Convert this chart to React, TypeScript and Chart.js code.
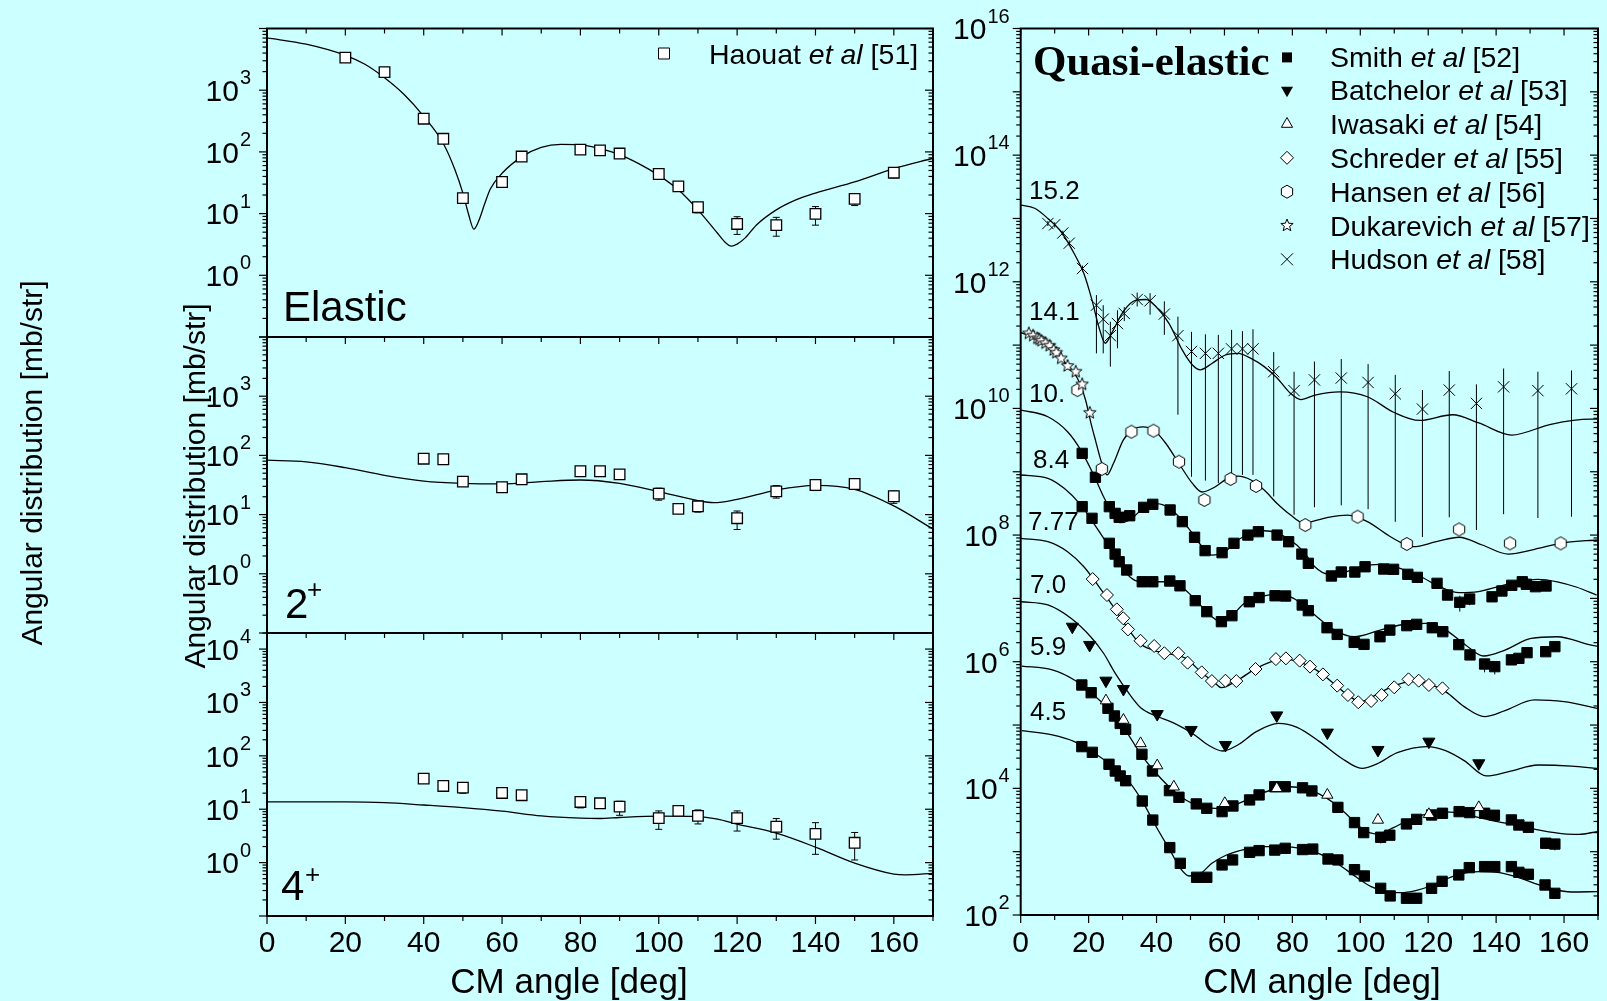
import { useEffect, useRef } from 'react';
import { Chart, registerables } from 'chart.js';

Chart.register(...registerables);

const W = 1607;
const H = 1001;
const BG = '#CCFFFF';
const SANS = '"Liberation Sans", Arial, Helvetica, sans-serif';
const SERIF = '"Liberation Serif", "Times New Roman", serif';

// ---------------- Left panels (Haouat et al [51]) ----------------
const elasticCurveAngle = [0, 10, 20, 25, 30, 35, 40, 45, 48, 50, 51.5, 52.8, 54, 55.5, 57, 60, 65, 70, 75, 80, 85, 90, 95, 100, 105, 110, 115, 117, 118.5, 120, 122, 125, 130, 135, 140, 150, 160, 170];
const elasticCurveValue = [7050, 5560, 3670, 2630, 1590, 850, 377, 137, 51, 21.5, 9.5, 5.6, 7.5, 14, 25, 45, 83, 118, 132, 130, 113, 90.6, 64, 41.7, 24.3, 11.5, 4.8, 3.4, 2.97, 3.2, 4.0, 6.6, 11.5, 16.7, 21.5, 32.6, 53.7, 79];
const elasticAngle = [20, 30, 40, 45, 50, 60, 65, 80, 85, 90, 100, 105, 110, 120, 130, 140, 150, 160];
const elasticValue = [3370, 1960, 345, 163, 17.8, 32.5, 84, 109, 106, 94, 43.8, 27.6, 12.7, 6.8, 6.5, 9.9, 17.3, 46];
const elasticLow = [3150, 1820, 320, 150, 16.3, 29.5, 78, 102, 99, 88, 40, 25.5, 10.3, 4.6, 4.3, 6.5, 13.5, 38];
const elasticHigh = [3600, 2100, 370, 176, 19.4, 35.5, 90, 116, 113, 100, 48, 30, 15.2, 8.9, 8.7, 13, 21, 53.5];

const inel2CurveAngle = [0, 10, 20, 30, 40, 50, 60, 70, 80, 90, 100, 110, 114, 120, 130, 140, 150, 160, 170];
const inel2CurveValue = [83, 78, 62, 46, 36.9, 33.7, 33, 36, 38.4, 33.7, 24.4, 17.2, 15.9, 18.1, 26, 31.2, 26.7, 14, 5.7];
const inel2Angle = [40, 45, 50, 60, 65, 80, 85, 90, 100, 105, 110, 120, 130, 140, 150, 160];
const inel2Value = [88, 86, 36, 29, 39.5, 54, 54, 47.8, 22.6, 12.5, 13.8, 8.7, 24.7, 31.6, 32.9, 20.4];
const inel2Low = [81, 79, 32, 26, 36, 49, 49, 43, 17.5, 11, 11, 5.6, 19, 25.5, 29, 15.5];
const inel2High = [96, 94, 41, 33, 43.5, 59, 59, 53, 28, 14, 16, 11.5, 31, 38, 37, 25];

const inel4CurveAngle = [0, 20, 30, 40, 50, 60, 70, 80, 85, 90, 100, 110, 115, 120, 130, 140, 150, 160, 163, 170];
const inel4CurveValue = [13.7, 13.7, 13.3, 12, 10.7, 9.2, 7.5, 6.8, 6.7, 7.0, 7.4, 7.3, 6.5, 5.25, 3.56, 1.95, 0.98, 0.61, 0.59, 0.63];
const inel4Angle = [40, 45, 50, 60, 65, 80, 85, 90, 100, 105, 110, 120, 130, 140, 150];
const inel4Value = [37.4, 27.3, 25.4, 20.2, 18.3, 13.7, 12.9, 11.2, 6.8, 9.3, 7.5, 6.8, 4.7, 3.46, 2.35];
const inel4Low = [34, 25, 19.9, 17.5, 16.5, 10.6, 10.5, 7.7, 4.2, 7.6, 5.3, 3.9, 2.75, 1.43, 1.12];
const inel4High = [41, 30, 31.5, 23, 20, 17, 15.5, 14.1, 9.3, 11, 9.7, 9.3, 6.7, 5.6, 3.67];

// ---------------- Right panel (quasi-elastic, scaled) ----------------
const c152Angle = [0, 4.1, 8.0, 11.9, 15.7, 18.6, 21.0, 23.0, 24.9, 26.8, 30.2, 34.0, 36.9, 39.8, 43.7, 47.6, 50.5, 52.9, 56.3, 60.1, 64.0, 67.8, 71.7, 75.5, 79.4, 82.5, 86.7, 93.9, 102.1, 109.8, 117.5, 127.2, 134.9, 144.6, 156.1, 167.7, 170];
const c152Value = [1.62e13, 1.45e13, 1.0e13, 6.17e12, 2.82e12, 1.35e12, 5.13e11, 1.95e11, 1.07e11, 1.55e11, 3.39e11, 5.13e11, 5.25e11, 4.07e11, 2.19e11, 8.32e10, 4.9e10, 4.07e10, 5.13e10, 6.92e10, 7.41e10, 6.17e10, 4.57e10, 3.02e10, 1.74e10, 1.38e10, 1.62e10, 1.82e10, 1.53e10, 8.71e9, 6.46e9, 7.94e9, 5.89e9, 3.8e9, 5.62e9, 6.76e9, 6.76e9];
const hudsonAngle = [8.0, 10.0, 12.4, 14.3, 18.2, 22.3, 24.3, 26.4, 28.5, 30.5, 34.3, 38.1, 42.3, 46.3, 50.3, 54.4, 58.2, 62.1, 65.3, 68.4, 74.5, 80.5, 86.5, 94.4, 102.3, 110.3, 118.3, 126.2, 134.2, 142.2, 152.3, 162.2];
const hudsonValue = [8.32e12, 7.94e12, 5.89e12, 4.07e12, 1.62e12, 4.27e11, 2.57e11, 1.41e11, 2.19e11, 3.16e11, 5.25e11, 5.01e11, 3.09e11, 1.41e11, 7.94e10, 7.41e10, 7.41e10, 8.71e10, 8.71e10, 8.71e10, 3.8e10, 1.91e10, 2.82e10, 3.02e10, 2.57e10, 1.7e10, 9.77e9, 1.95e10, 1.2e10, 2.19e10, 1.91e10, 2.04e10];
const hudsonLow = [7.6e12, 7.2e12, 5.4e12, 3.7e12, 1.45e12, 7.41e10, 7.41e10, 4.57e10, 8.91e10, 2.4e11, 4.07e11, 3.02e11, 1.45e11, 7.94e9, 8.32e8, 7.24e8, 6.61e8, 7.41e8, 8.91e8, 8.91e8, 4.07e8, 2.09e8, 2.75e8, 2.95e8, 2.57e8, 1.62e8, 9.33e7, 1.91e8, 1.2e8, 2.14e8, 1.86e8, 1.95e8];
const hudsonHigh = [9.1e12, 8.7e12, 6.4e12, 4.5e12, 1.8e12, 6.17e11, 4.27e11, 2.34e11, 3.55e11, 3.98e11, 6.76e11, 6.61e11, 4.9e11, 2.82e11, 1.62e11, 1.48e11, 1.45e11, 1.74e11, 1.66e11, 1.78e11, 7.76e10, 3.8e10, 5.5e10, 6.03e10, 5.01e10, 3.39e10, 1.95e10, 3.89e10, 2.4e10, 4.27e10, 3.8e10, 3.98e10];

const c141Angle = [0.1, 4.1, 8.0, 12.8, 16.7, 19.1, 20.7, 22.0, 23.9, 25.4, 27.3, 30.2, 33.1, 36.0, 38.9, 42.7, 46.6, 50.5, 53.4, 57.2, 61.1, 64.0, 67.8, 71.7, 75.5, 79.4, 83.3, 90.5, 96.3, 102.1, 108.9, 115.6, 122.4, 129.1, 135.9, 143.6, 151.3, 160.0, 169.8];
const c141Value = [1.57e11, 1.28e11, 9.44e10, 5.47e10, 2.99e10, 1.36e10, 5.82e9, 3.16e9, 1.35e9, 8.91e8, 1.35e9, 3.16e9, 4.68e9, 5.13e9, 4.68e9, 2.82e9, 1.35e9, 6.61e8, 4.79e8, 5.75e8, 7.94e8, 8.51e8, 7.41e8, 5.13e8, 3.16e8, 2.09e8, 1.55e8, 1.91e8, 2.07e8, 1.63e8, 9.42e7, 6.55e7, 7.85e7, 9.23e7, 6.97e7, 5.01e7, 5.96e7, 7.59e7, 8.36e7];
const dukarevichAngle = [2.4, 3.65, 4.9, 5.5, 6.1, 7.3, 8.5, 9.7, 10.5, 11.9, 13.8, 16.2, 18.1, 20.35];
const dukarevichValue = [1.53e11, 1.41e11, 1.28e11, 1.23e11, 1.17e11, 1.07e11, 9.77e10, 8.37e10, 7.59e10, 6.17e10, 4.68e10, 3.8e10, 2.4e10, 8.51e9];
const hansenAngle = [16.7, 23.9, 32.6, 39.1, 46.6, 54.1, 61.8, 69.3, 83.8, 99.2, 113.7, 129.1, 144.1, 159.0];
const hansenValue = [1.95e10, 1.11e9, 4.29e9, 4.45e9, 1.44e9, 3.58e8, 7.69e8, 5.96e8, 1.44e8, 1.95e8, 7.23e7, 1.23e8, 7.41e7, 7.41e7];

const c10Angle = [0.1, 8.0, 13.8, 17.7, 21.5, 24.4, 27.3, 29.2, 32.1, 36.0, 38.9, 42.7, 46.6, 50.5, 53.4, 56.3, 60.1, 64.0, 67.8, 71.7, 75.5, 79.4, 83.3, 86.6, 90.5, 94.3, 100.1, 105.9, 111.7, 117.5, 123.3, 129.1, 134.8, 140.6, 146.4, 152.2, 158.0, 163.8, 169.6];
const c10Value = [9.44e9, 7.4e9, 4.29e9, 2.2e9, 8.89e8, 4.04e8, 2.07e8, 1.57e8, 1.73e8, 2.63e8, 3.16e8, 2.88e8, 1.95e8, 1.07e8, 6.55e7, 4.84e7, 5.46e7, 8.36e7, 1.07e8, 1.17e8, 1.07e8, 8.36e7, 5.46e7, 3.16e7, 2.43e7, 2.49e7, 3.16e7, 3.45e7, 2.99e7, 2.26e7, 1.53e7, 1.23e7, 1.28e7, 1.53e7, 1.83e7, 2.0e7, 1.83e7, 1.5e7, 1.13e7];
const smithAAngle = [18.1, 22.0, 26.1, 27.8, 29.0, 32.1, 36.2, 38.9, 44.0, 47.6, 51.2, 54.3, 59.3, 62.8, 66.9, 70.0, 75.5, 78.9, 82.8, 84.7, 91.5, 94.4, 98.4, 101.4, 106.9, 109.8, 114.0, 116.8, 122.6, 125.7, 129.3, 132.2, 138.8, 141.7, 144.6, 147.7, 148.9, 151.6, 154.7];
const smithAValue = [1.95e9, 8.18e8, 2.81e8, 2.2e8, 1.91e8, 2.02e8, 2.74e8, 3.06e8, 2.49e8, 1.63e8, 9.23e7, 5.68e7, 5.27e7, 7.41e7, 1.0e8, 1.13e8, 1.0e8, 7.85e7, 5.01e7, 3.58e7, 2.26e7, 2.61e7, 2.61e7, 3.16e7, 2.91e7, 2.88e7, 2.4e7, 2.15e7, 1.73e7, 1.13e7, 8.67e6, 9.77e6, 1.06e7, 1.31e7, 1.61e7, 1.83e7, 1.67e7, 1.53e7, 1.57e7];
const smithAErrAngle = [125.7, 129.3, 132.2];
const smithAErrValue = [1.13e7, 8.67e6, 9.77e6];
const smithAErrLow = [9.5e6, 6.2e6, 7.8e6];
const smithAErrHigh = [1.3e7, 1.1e7, 1.15e7];

const c84Angle = [0.1, 8.0, 12.8, 17.7, 21.5, 25.4, 29.2, 32.1, 35.5, 39.8, 44.7, 48.5, 52.4, 56.3, 58.7, 62.0, 65.9, 70.7, 75.5, 79.4, 83.3, 86.6, 92.4, 98.2, 105.9, 113.6, 119.4, 125.2, 131.0, 136.3, 142.6, 150.3, 158.0, 167.7, 170];
const c84Value = [8.89e8, 7.87e8, 5.47e8, 2.99e8, 1.53e8, 7.41e7, 3.58e7, 2.2e7, 1.83e7, 1.83e7, 1.83e7, 1.36e7, 8.36e6, 5.14e6, 4.29e6, 5.27e6, 8.36e6, 1.06e7, 1.17e7, 1.06e7, 7.87e6, 5.46e6, 3.16e6, 2.48e6, 3.16e6, 3.94e6, 4.04e6, 3.16e6, 1.84e6, 1.23e6, 1.53e6, 2.34e6, 2.48e6, 1.84e6, 1.74e6];
const smithBAngle = [18.1, 21.0, 26.1, 27.8, 29.0, 31.2, 35.8, 38.9, 43.9, 46.9, 51.4, 54.8, 59.1, 62.2, 67.3, 70.2, 74.9, 78.0, 82.9, 84.7, 90.2, 93.2, 98.2, 101.1, 105.8, 108.7, 113.7, 116.6, 121.2, 124.3, 129.0, 132.3, 136.6, 139.6, 144.5, 146.7, 149.1, 154.6, 157.3];
const smithBValue = [2.81e8, 1.84e8, 7.41e7, 5.01e7, 3.79e7, 2.81e7, 1.83e7, 1.83e7, 1.88e7, 1.58e7, 9.2e6, 6.17e6, 4.29e6, 5.33e6, 8.85e6, 1.03e7, 1.1e7, 1.09e7, 7.87e6, 6.4e6, 3.44e6, 2.7e6, 2.02e6, 1.88e6, 2.48e6, 3.16e6, 3.71e6, 3.89e6, 3.44e6, 2.98e6, 1.86e6, 1.28e6, 9.2e5, 8.36e5, 1.07e6, 1.13e6, 1.39e6, 1.44e6, 1.73e6];
const smithBErrAngle = [136.6, 139.6];
const smithBErrValue = [9.2e5, 8.36e5];
const smithBErrLow = [6.8e5, 6.3e5];
const smithBErrHigh = [1.1e6, 1.0e6];

const c777Angle = [0.1, 8.0, 13.8, 18.6, 23.4, 27.3, 31.2, 35.0, 38.9, 43.0, 48.6, 53.0, 57.3, 59.0, 63.9, 69.4, 74.8, 78.1, 85.75, 91.2, 96.7, 100.0, 105.4, 109.8, 115.2, 119.6, 125.1, 130.6, 136.6, 142.6, 151.3, 160.0, 169.7];
const c777Value = [8.89e7, 7.85e7, 5.46e7, 3.16e7, 1.44e7, 7.38e6, 3.57e6, 1.95e6, 1.53e6, 1.35e6, 1.13e6, 6.97e5, 4.56e5, 3.89e5, 5.14e5, 7.87e5, 1.04e6, 1.09e6, 8.15e5, 5.02e5, 2.88e5, 2.34e5, 3.16e5, 4.14e5, 4.84e5, 4.56e5, 3.37e5, 1.95e5, 1.36e5, 1.69e5, 2.49e5, 2.34e5, 1.84e5];
const schrederAngle = [21.2, 25.4, 28.3, 30.2, 31.6, 35.3, 39.3, 42.3, 46.4, 49.15, 53.3, 56.3, 60.3, 63.5, 69.15, 75.15, 78.1, 82.15, 85.2, 89.0, 93.2, 96.35, 99.4, 103.2, 106.3, 110.0, 114.2, 117.2, 120.2, 124.2];
const schrederValue = [2.02e7, 1.13e7, 6.71e6, 4.85e6, 3.24e6, 2.14e6, 1.77e6, 1.36e6, 1.36e6, 9.66e5, 6.79e5, 4.95e5, 5.01e5, 4.95e5, 7.67e5, 1.1e6, 1.13e6, 1.04e6, 8.36e5, 6.31e5, 4.19e5, 2.98e5, 2.29e5, 2.4e5, 2.98e5, 3.94e5, 5.27e5, 5.02e5, 4.29e5, 3.8e5];

const c70Angle = [0.1, 8.0, 14.8, 20.6, 24.4, 27.85, 32.2, 35.5, 39.9, 45.3, 50.8, 55.2, 59.5, 63.9, 69.4, 75.9, 81.4, 88.0, 94.5, 100.5, 104.9, 110.9, 119.6, 125.1, 130.6, 137.1, 143.7, 152.4, 162.2, 169.7];
const c70Value = [8.85e6, 7.87e6, 4.85e6, 2.48e6, 1.36e6, 6.56e5, 2.99e5, 1.84e5, 1.39e5, 1.06e5, 7.23e4, 4.84e4, 3.89e4, 4.84e4, 7.87e4, 1.06e5, 9.2e4, 5.47e4, 2.99e4, 2.07e4, 2.43e4, 3.66e4, 4.56e4, 3.94e4, 2.74e4, 1.57e4, 1.84e4, 2.34e4, 2.25e4, 2.07e4];
const batchelorAngle = [15.2, 20.3, 25.1, 30.25, 40.2, 50.2, 60.3, 75.4, 90.3, 105.2, 120.2, 134.9];
const batchelorValue = [3.57e6, 1.84e6, 5.02e5, 3.71e5, 1.49e5, 8.36e4, 4.84e4, 1.42e5, 7.59e4, 4.04e4, 5.47e4, 2.49e4];

const c59Angle = [0.3, 9.3, 15.8, 20.2, 25.7, 31.1, 35.5, 39.9, 44.2, 48.6, 53.0, 57.3, 61.7, 66.1, 70.5, 74.8, 79.2, 83.6, 88.0, 92.3, 96.7, 101.0, 104.9, 109.8, 114.2, 119.6, 124.0, 128.4, 133.8, 140.4, 147.0, 153.5, 160.0, 164.4, 169.7];
const c59Value = [8.55e5, 7.41e5, 5.13e5, 3.37e5, 1.84e5, 7.87e4, 3.37e4, 1.73e4, 1.0e4, 6.56e3, 5.14e3, 4.84e3, 5.14e3, 6.4e3, 8.17e3, 9.77e3, 1.06e4, 1.0e4, 8.13e3, 5.81e3, 3.57e3, 2.2e3, 1.91e3, 2.4e3, 3.16e3, 3.94e3, 4.24e3, 4.14e3, 3.57e3, 2.98e3, 2.55e3, 2.15e3, 1.91e3, 1.88e3, 2.07e3];
const iwasakiAngle = [25.1, 30.25, 35.3, 40.2, 45.1, 60.1, 75.4, 90.3, 105.2, 120.2, 134.9];
const iwasakiValue = [2.43e5, 1.2e5, 5.13e4, 2.29e4, 1.06e4, 5.81e3, 1.0e4, 7.87e3, 3.17e3, 3.89e3, 5.01e3];
const smithCAngle = [18.0, 20.75, 25.7, 27.6, 29.3, 30.9, 35.7, 38.8, 43.8, 46.6, 51.7, 54.8, 59.3, 62.5, 67.4, 70.2, 74.8, 77.9, 83.0, 85.75, 93.4, 98.3, 101.0, 106.0, 108.7, 113.6, 116.6, 121.0, 124.2, 129.1, 132.2, 136.6, 139.5, 144.5, 146.7, 149.5, 154.6, 157.3];
const smithCValue = [4.29e5, 3.24e5, 1.84e5, 1.39e5, 1.06e5, 8.55e4, 3.45e4, 1.88e4, 9.2e3, 7.23e3, 5.68e3, 4.84e3, 4.29e3, 5.27e3, 6.56e3, 7.87e3, 1.06e4, 1.06e4, 1.02e4, 9.1e3, 5.01e3, 2.88e3, 2.0e3, 1.69e3, 1.82e3, 2.74e3, 3.24e3, 3.8e3, 4.04e3, 4.29e3, 4.14e3, 4.04e3, 3.76e3, 3.17e3, 2.64e3, 2.43e3, 1.36e3, 1.32e3];
const smithCErrAngle = [106.0, 154.6, 157.3];
const smithCErrValue = [1.69e3, 1.36e3, 1.32e3];
const smithCErrLow = [1.35e3, 1.1e3, 1.05e3];
const smithCErrHigh = [1.95e3, 1.55e3, 1.55e3];

const c45Angle = [0.3, 9.3, 15.8, 20.2, 25.7, 31.1, 35.5, 39.9, 44.2, 47.0, 49.7, 53.0, 56.3, 60.6, 66.1, 71.6, 77.0, 82.5, 88.0, 93.4, 98.9, 103.2, 107.6, 112.0, 116.3, 120.7, 125.1, 129.5, 135.0, 140.4, 145.8, 151.3, 156.8, 162.2, 169.7];
const c45Value = [8.15e4, 6.97e4, 5.47e4, 4.04e4, 2.55e4, 1.44e4, 6.71e3, 2.48e3, 1.0e3, 546, 413, 455, 655, 887, 1.09e3, 1.2e3, 1.2e3, 1.13e3, 920, 640, 394, 281, 234, 225, 243, 287, 366, 445, 484, 472, 404, 316, 255, 231, 234];
const smithDAngle = [18.0, 21.1, 26.0, 27.85, 29.3, 30.9, 35.8, 38.9, 43.9, 47.0, 51.8, 54.8, 59.3, 62.4, 67.4, 70.2, 74.8, 77.9, 83.0, 86.0, 90.5, 93.4, 98.3, 101.2, 106.0, 108.8, 113.6, 116.6, 121.0, 124.1, 129.0, 132.1, 136.6, 139.6, 144.5, 146.7, 149.5, 154.4, 157.3];
const smithDValue = [4.56e4, 3.71e4, 2.4e4, 1.88e4, 1.57e4, 1.32e4, 6.31e3, 3.16e3, 1.16e3, 655, 394, 394, 617, 740, 977, 1.04e3, 1.06e3, 1.13e3, 1.08e3, 1.1e3, 767, 740, 520, 413, 264, 200, 184, 184, 264, 340, 429, 560, 581, 581, 581, 472, 440, 298, 220];

// Labels
const energyLabels = ['15.2', '14.1', '10.', '8.4', '7.77', '7.0', '5.9', '4.5'];
const legendAuthors = ['Smith', 'Batchelor', 'Iwasaki', 'Schreder', 'Hansen', 'Dukarevich', 'Hudson'];
const legendRefs = ['[52]', '[53]', '[54]', '[55]', '[56]', '[57]', '[58]'];
const legendKinds = ['fsquare', 'dtri', 'utri', 'diamond', 'hex', 'star', 'cross'];
const xTickLabels = [0, 20, 40, 60, 80, 100, 120, 140, 160];

// ---------------- helpers ----------------
const pts = (xs: number[], ys: number[]) => xs.map((x, i) => ({ x, y: ys[i] }));
const ptsErr = (xs: number[], ys: number[], lo: number[], hi: number[]) =>
  xs.map((x, i) => ({ x, y: ys[i], lo: lo[i], hi: hi[i] }));

const curve = (xs: number[], ys: number[]) => ({
  data: pts(xs, ys),
  showLine: true,
  borderColor: '#000',
  borderWidth: 1.3,
  pointRadius: 0,
  pointHoverRadius: 0,
  pointHitRadius: 0,
  cubicInterpolationMode: 'monotone',
  fill: false,
  order: 2,
});

const marks = (data: any[], style: any, radius: number, fillColor: string, extra: any = {}) => ({
  data,
  showLine: false,
  pointStyle: style,
  pointRadius: radius,
  pointHoverRadius: radius,
  backgroundColor: fillColor,
  borderColor: '#000',
  borderWidth: 1,
  order: 1,
  ...extra,
});

const errOnly = (data: any[], cap: number) => ({
  data,
  showLine: false,
  pointRadius: 0,
  pointHoverRadius: 0,
  errCap: cap,
  order: 3,
});

function hexPath(g: CanvasRenderingContext2D, x: number, y: number, r: number) {
  g.beginPath();
  for (let i = 0; i < 6; i++) {
    const a = -Math.PI / 2 + (i * Math.PI) / 3;
    const px = x + r * Math.cos(a);
    const py = y + r * Math.sin(a);
    if (i === 0) g.moveTo(px, py);
    else g.lineTo(px, py);
  }
  g.closePath();
}
function starPath(g: CanvasRenderingContext2D, x: number, y: number, ro: number, ri: number) {
  g.beginPath();
  for (let i = 0; i < 10; i++) {
    const a = -Math.PI / 2 + (i * Math.PI) / 5;
    const r = i % 2 === 0 ? ro : ri;
    const px = x + r * Math.cos(a);
    const py = y + r * Math.sin(a);
    if (i === 0) g.moveTo(px, py);
    else g.lineTo(px, py);
  }
  g.closePath();
}

function drawShape(g: CanvasRenderingContext2D, kind: string, x: number, y: number) {
  g.save();
  g.lineWidth = 1;
  g.strokeStyle = '#000';
  g.fillStyle = '#fff';
  g.beginPath();
  if (kind === 'fsquare') {
    g.rect(x - 5, y - 5, 10, 10);
    g.fillStyle = '#000';
    g.fill();
  } else if (kind === 'osquare') {
    g.rect(x - 5.5, y - 5.5, 11, 11);
    g.fill();
    g.stroke();
  } else if (kind === 'dtri') {
    g.moveTo(x - 6, y - 3.5);
    g.lineTo(x + 6, y - 3.5);
    g.lineTo(x, y + 7);
    g.closePath();
    g.fillStyle = '#000';
    g.fill();
  } else if (kind === 'utri') {
    g.moveTo(x - 5.6, y + 3.3);
    g.lineTo(x + 5.6, y + 3.3);
    g.lineTo(x, y - 6.5);
    g.closePath();
    g.fill();
    g.stroke();
  } else if (kind === 'diamond') {
    g.moveTo(x, y - 6.5);
    g.lineTo(x + 6.5, y);
    g.lineTo(x, y + 6.5);
    g.lineTo(x - 6.5, y);
    g.closePath();
    g.fill();
    g.stroke();
  } else if (kind === 'hex') {
    hexPath(g, x, y, 6.5);
    g.fill();
    g.stroke();
  } else if (kind === 'star') {
    starPath(g, x, y, 6.5, 2.8);
    g.fill();
    g.stroke();
  } else if (kind === 'cross') {
    const d = 6;
    g.moveTo(x - d, y - d);
    g.lineTo(x + d, y + d);
    g.moveTo(x + d, y - d);
    g.lineTo(x - d, y + d);
    g.stroke();
  }
  g.restore();
}

function shapeCanvas(kind: string) {
  const c = document.createElement('canvas');
  c.width = 16;
  c.height = 16;
  const g = c.getContext('2d') as CanvasRenderingContext2D;
  drawShape(g, kind, 8, 8);
  return c;
}

function powLabel(ctx: CanvasRenderingContext2D, exp: number, xr: number, y: number, fs: number) {
  const sfs = Math.round(fs * 0.68);
  const es = String(exp);
  ctx.textAlign = 'left';
  ctx.textBaseline = 'alphabetic';
  ctx.font = `${sfs}px ${SANS}`;
  const we = ctx.measureText(es).width;
  ctx.font = `${fs}px ${SANS}`;
  const wb = ctx.measureText('10').width;
  const x0 = xr - we - wb - 1;
  ctx.fillText('10', x0, y + fs * 0.36);
  ctx.font = `${sfs}px ${SANS}`;
  ctx.fillText(es, x0 + wb + 1, y - fs * 0.2);
}

function richText(ctx: CanvasRenderingContext2D, x: number, y: number, parts: Array<[string, boolean]>, fs: number) {
  let cx = x;
  ctx.textAlign = 'left';
  ctx.textBaseline = 'alphabetic';
  for (const [t, it] of parts) {
    ctx.font = `${it ? 'italic ' : ''}${fs}px ${SANS}`;
    ctx.fillText(t, cx, y);
    cx += ctx.measureText(t).width;
  }
}

function line(ctx: CanvasRenderingContext2D, x1: number, y1: number, x2: number, y2: number) {
  ctx.beginPath();
  ctx.moveTo(x1, y1);
  ctx.lineTo(x2, y2);
  ctx.stroke();
}

type FrameCfg = {
  labelExps: number[];
  labelRight: number;
  bottomTicks: boolean;
  xLabels: boolean;
  tickFs: number;
};

function drawFrame(chart: any, cfg: FrameCfg) {
  const { ctx, chartArea: a } = chart;
  const xs = chart.scales.x;
  const ys = chart.scales.y;
  ctx.save();
  ctx.strokeStyle = '#000';
  ctx.fillStyle = '#000';
  ctx.lineWidth = 1.2;
  for (let v = 0; v <= 170; v += 10) {
    const px = xs.getPixelForValue(v);
    const major = v % 20 === 0;
    line(ctx, px, a.top, px, a.top + (major ? 7 : 5));
    if (cfg.bottomTicks) line(ctx, px, a.bottom, px, a.bottom + (major ? 8 : 5));
  }
  const e0 = Math.floor(Math.log10(ys.min));
  const e1 = Math.ceil(Math.log10(ys.max));
  for (let e = e0; e <= e1; e++) {
    for (let k = 1; k < 10; k++) {
      const v = k * Math.pow(10, e);
      if (v < ys.min * 0.999 || v > ys.max * 1.001) continue;
      const py = ys.getPixelForValue(v);
      const len = k === 1 ? 8 : 4.5;
      line(ctx, a.left - len, py, a.left, py);
      line(ctx, a.right - len, py, a.right, py);
    }
  }
  ctx.lineWidth = 2;
  ctx.strokeRect(a.left, a.top, a.right - a.left, a.bottom - a.top);
  for (const e of cfg.labelExps) {
    powLabel(ctx, e, cfg.labelRight, ys.getPixelForValue(Math.pow(10, e)), cfg.tickFs);
  }
  if (cfg.xLabels) {
    ctx.font = `${cfg.tickFs}px ${SANS}`;
    ctx.textAlign = 'center';
    ctx.textBaseline = 'alphabetic';
    for (const v of xTickLabels) ctx.fillText(String(v), xs.getPixelForValue(v), 952);
  }
  ctx.restore();
}

const errPlugin = {
  id: 'errbars',
  beforeDatasetsDraw(chart: any) {
    const { ctx, chartArea: a } = chart;
    const xs = chart.scales.x;
    const ys = chart.scales.y;
    ctx.save();
    ctx.beginPath();
    ctx.rect(a.left, a.top, a.right - a.left, a.bottom - a.top);
    ctx.clip();
    ctx.strokeStyle = '#000';
    ctx.lineWidth = 1;
    chart.data.datasets.forEach((ds: any) => {
      if (ds.errCap === undefined) return;
      for (const p of ds.data) {
        if (p.lo == null) continue;
        const px = xs.getPixelForValue(p.x);
        const y1 = ys.getPixelForValue(p.lo);
        const y2 = ys.getPixelForValue(p.hi);
        line(ctx, px, y1, px, y2);
        if (ds.errCap > 0) {
          line(ctx, px - ds.errCap, y1, px + ds.errCap, y1);
          line(ctx, px - ds.errCap, y2, px + ds.errCap, y2);
        }
      }
    });
    ctx.restore();
  },
};

function baseOptions(l: number, t: number, r: number, b: number, yMin: number, yMax: number) {
  return {
    responsive: false,
    maintainAspectRatio: false,
    animation: false,
    devicePixelRatio: 1,
    events: [],
    layout: { padding: { left: l, top: t, right: W - r, bottom: H - b } },
    scales: {
      x: { type: 'linear', min: 0, max: 170, display: false },
      y: { type: 'logarithmic', min: yMin, max: yMax, display: false },
    },
    plugins: { legend: { display: false }, tooltip: { enabled: false }, title: { display: false } },
  };
}

const LEFT_L = 267;
const LEFT_R = 933;

function leftChart(
  canvas: HTMLCanvasElement,
  top: number,
  bottom: number,
  yMax: number,
  cX: number[],
  cY: number[],
  dX: number[],
  dY: number[],
  lo: number[],
  hi: number[],
  labelExps: number[],
  isBottom: boolean,
  extra: (ctx: CanvasRenderingContext2D) => void
) {
  const datasets: any[] = [
    { ...errOnly(ptsErr(dX, dY, lo, hi), 3.5) },
    curve(cX, cY),
    marks(pts(dX, dY), 'rect', 7.5, '#fff', { borderWidth: 1.3 }),
  ];
  return new Chart(canvas, {
    type: 'scatter',
    data: { datasets },
    options: baseOptions(LEFT_L, top, LEFT_R, bottom, 0.1, yMax) as any,
    plugins: [
      errPlugin,
      {
        id: 'frame',
        afterDraw(chart: any) {
          drawFrame(chart, { labelExps, labelRight: LEFT_L - 16, bottomTicks: isBottom, xLabels: isBottom, tickFs: 30 });
          const ctx = chart.ctx;
          ctx.save();
          ctx.fillStyle = '#000';
          extra(ctx);
          ctx.restore();
        },
      },
    ],
  } as any);
}

export default function App() {
  const r1 = useRef<HTMLCanvasElement>(null);
  const r2 = useRef<HTMLCanvasElement>(null);
  const r3 = useRef<HTMLCanvasElement>(null);
  const r4 = useRef<HTMLCanvasElement>(null);

  useEffect(() => {
    const charts: any[] = [];
    const hexImg = shapeCanvas('hex');
    const starImg = shapeCanvas('star');

    charts.push(
      leftChart(r1.current!, 28.5, 337, 1e4, elasticCurveAngle, elasticCurveValue, elasticAngle, elasticValue, elasticLow, elasticHigh, [0, 1, 2, 3], false, (ctx) => {
        drawShape(ctx, 'osquare', 664, 53.5);
        ctx.fillStyle = '#000';
        richText(ctx, 709, 63.5, [['Haouat ', false], ['et al', true], [' [51]', false]], 28.5);
        ctx.font = `42px ${SANS}`;
        ctx.textAlign = 'left';
        ctx.fillText('Elastic', 283, 321);
      })
    );
    charts.push(
      leftChart(r2.current!, 337, 633, 1e4, inel2CurveAngle, inel2CurveValue, inel2Angle, inel2Value, inel2Low, inel2High, [0, 1, 2, 3], false, (ctx) => {
        ctx.textAlign = 'left';
        ctx.font = `42px ${SANS}`;
        ctx.fillText('2', 285, 618);
        ctx.font = `26px ${SANS}`;
        ctx.fillText('+', 307, 598);
      })
    );
    charts.push(
      leftChart(r3.current!, 633, 916, 2e4, inel4CurveAngle, inel4CurveValue, inel4Angle, inel4Value, inel4Low, inel4High, [0, 1, 2, 3, 4], true, (ctx) => {
        ctx.textAlign = 'left';
        ctx.font = `42px ${SANS}`;
        ctx.fillText('4', 281, 900);
        ctx.font = `26px ${SANS}`;
        ctx.fillText('+', 305, 883);
        ctx.font = `35px ${SANS}`;
        ctx.textAlign = 'center';
        ctx.fillText('CM angle [deg]', 569, 993);
        ctx.save();
        ctx.translate(205, 486);
        ctx.rotate(-Math.PI / 2);
        ctx.font = `30px ${SANS}`;
        ctx.textAlign = 'center';
        ctx.fillText('Angular distribution [mb/str]', 0, 0);
        ctx.restore();
      })
    );

    const RL = 1020.7;
    const RR = 1607;
    const rightDatasets: any[] = [
      errOnly(ptsErr(hudsonAngle, hudsonValue, hudsonLow, hudsonHigh), 0),
      errOnly(ptsErr(smithAErrAngle, smithAErrValue, smithAErrLow, smithAErrHigh), 0),
      errOnly(ptsErr(smithBErrAngle, smithBErrValue, smithBErrLow, smithBErrHigh), 0),
      errOnly(ptsErr(smithCErrAngle, smithCErrValue, smithCErrLow, smithCErrHigh), 0),
      curve(c152Angle, c152Value),
      curve(c141Angle, c141Value),
      curve(c10Angle, c10Value),
      curve(c84Angle, c84Value),
      curve(c777Angle, c777Value),
      curve(c70Angle, c70Value),
      curve(c59Angle, c59Value),
      curve(c45Angle, c45Value),
      marks(pts(hudsonAngle, hudsonValue), 'crossRot', 8, '#000'),
      marks(pts(dukarevichAngle, dukarevichValue), starImg, 6, '#fff'),
      marks(pts(hansenAngle, hansenValue), hexImg, 6, '#fff'),
      marks(pts(smithAAngle, smithAValue), 'rect', 7.3, '#000'),
      marks(pts(smithBAngle, smithBValue), 'rect', 7.3, '#000'),
      marks(pts(schrederAngle, schrederValue), 'rectRot', 6.5, '#fff'),
      marks(pts(batchelorAngle, batchelorValue), 'triangle', 7, '#000', { rotation: 180 }),
      marks(pts(iwasakiAngle, iwasakiValue), 'triangle', 6.5, '#fff'),
      marks(pts(smithCAngle, smithCValue), 'rect', 7.3, '#000'),
      marks(pts(smithDAngle, smithDValue), 'rect', 7.3, '#000'),
    ];
    const energyPos: Array<[number, number]> = [
      [1029, 199], [1029, 320], [1029, 402], [1033, 468], [1028, 530], [1030, 593], [1030, 655], [1030, 720],
    ];
    const legendY = [57.4, 90.2, 124, 157.8, 191.7, 225.5, 259.3];

    charts.push(
      new Chart(r4.current!, {
        type: 'scatter',
        data: { datasets: rightDatasets },
        options: baseOptions(RL, 28.5, RR, 915, 1e2, 1e16) as any,
        plugins: [
          errPlugin,
          {
            id: 'frameR',
            afterDraw(chart: any) {
              drawFrame(chart, {
                labelExps: [2, 4, 6, 8, 10, 12, 14, 16],
                labelRight: RL - 11,
                bottomTicks: true,
                xLabels: true,
                tickFs: 30,
              });
              const ctx = chart.ctx;
              ctx.save();
              ctx.fillStyle = '#000';
              ctx.textAlign = 'left';
              ctx.textBaseline = 'alphabetic';
              ctx.font = `26px ${SANS}`;
              energyLabels.forEach((t, i) => ctx.fillText(t, energyPos[i][0], energyPos[i][1]));
              ctx.font = `bold 43px ${SERIF}`;
              ctx.fillText('Quasi-elastic', 1033, 75);
              legendKinds.forEach((k, i) => {
                drawShape(ctx, k, 1287, legendY[i]);
                ctx.fillStyle = '#000';
                richText(ctx, 1330, legendY[i] + 10, [[legendAuthors[i] + ' ', false], ['et al', true], [' ' + legendRefs[i], false]], 28.5);
              });
              ctx.font = `35px ${SANS}`;
              ctx.textAlign = 'center';
              ctx.fillText('CM angle [deg]', 1322, 993);
              ctx.save();
              ctx.translate(42, 463);
              ctx.rotate(-Math.PI / 2);
              ctx.font = `30px ${SANS}`;
              ctx.textAlign = 'center';
              ctx.fillText('Angular distribution [mb/str]', 0, 0);
              ctx.restore();
              ctx.restore();
            },
          },
        ],
      } as any)
    );

    return () => {
      charts.forEach((c) => c.destroy());
    };
  }, []);

  const cs: any = { position: 'absolute', left: 0, top: 0, width: W, height: H };
  return (
    <div style={{ position: 'absolute', left: 0, top: 0, width: W, height: H, background: BG, overflow: 'hidden' }}>
      <canvas ref={r1} width={W} height={H} style={cs} />
      <canvas ref={r2} width={W} height={H} style={cs} />
      <canvas ref={r3} width={W} height={H} style={cs} />
      <canvas ref={r4} width={W} height={H} style={cs} />
    </div>
  );
}
